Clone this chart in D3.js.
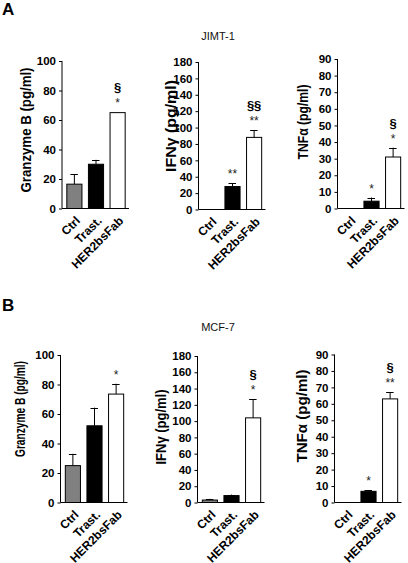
<!DOCTYPE html>
<html><head><meta charset="utf-8">
<script src="https://cdn.jsdelivr.net/npm/d3@7/dist/d3.min.js"></script>
<style>
html,body{margin:0;padding:0;background:#fff;}
svg{display:block;}
text{font-family:"Liberation Sans",Arial,sans-serif;}
</style></head>
<body>
<script>
const categories = ["Ctrl", "Trast.", "HER2bsFab"];
const barColors = ["#808080", "#000000", "#ffffff"];

// Row A: JIMT-1
const jimtGranzyme = [16.5, 30, 65];
const jimtGranzymeSem = [6.8, 3, 0.3];
const jimtIfn = [0, 28, 88];
const jimtIfnSem = [0, 4, 8.5];
const jimtTnf = [0, 4.4, 31];
const jimtTnfSem = [0, 2.2, 5.6];

// Row B: MCF-7
const mcfGranzyme = [25, 52, 73.5];
const mcfGranzymeSem = [8, 12.3, 7];
const mcfIfn = [3, 8.5, 104];
const mcfIfnSem = [1.5, 1.2, 23];
const mcfTnf = [0, 6.8, 63];
const mcfTnfSem = [0, 0.5, 4];

// significance marks
const jimtGranzymeStars = ["", "", "*"], jimtGranzymeSect = ["", "", "§"];
const jimtIfnStars = ["", "**", "**"], jimtIfnSect = ["", "", "§§"];
const jimtTnfStars = ["", "*", "*"], jimtTnfSect = ["", "", "§"];
const mcfGranzymeStars = ["", "", "*"], mcfGranzymeSect = ["", "", ""];
const mcfIfnStars = ["", "", "*"], mcfIfnSect = ["", "", "§"];
const mcfTnfStars = ["", "*", "**"], mcfTnfSect = ["", "", "§"];

const granzymeTicks = [0, 20, 40, 60, 80, 100];
const ifnTicks = [0, 20, 40, 60, 80, 100, 120, 140, 160, 180];
const tnfTicks = [0, 10, 20, 30, 40, 50, 60, 70, 80, 90];

const rowTitles = ["JIMT-1", "MCF-7"];
const rowLetters = ["A", "B"];
const yLabels = ["Granzyme B (pg/ml)", "IFNγ (pg/ml)", "TNFα (pg/ml)"];

const W = 408, H = 563;
const svg = d3.select("body").append("svg").attr("width", W).attr("height", H);
const FONT = '"Liberation Sans",Arial,sans-serif';

const panels = [
  {vals: jimtGranzyme, sem: jimtGranzymeSem, stars: jimtGranzymeStars, sect: jimtGranzymeSect, ticks: granzymeTicks, label: yLabels[0],
   ax: 62, y0: 208.5, y1: 61, labX: 31, labY: 130, labLen: 125},
  {vals: jimtIfn, sem: jimtIfnSem, stars: jimtIfnStars, sect: jimtIfnSect, ticks: ifnTicks, label: yLabels[1],
   ax: 198.5, y0: 209.5, y1: 62, labX: 176, labY: 126, labLen: 92},
  {vals: jimtTnf, sem: jimtTnfSem, stars: jimtTnfStars, sect: jimtTnfSect, ticks: tnfTicks, label: yLabels[2],
   ax: 337.5, y0: 208.5, y1: 59, labX: 308, labY: 122, labLen: 75},
  {vals: mcfGranzyme, sem: mcfGranzymeSem, stars: mcfGranzymeStars, sect: mcfGranzymeSect, ticks: granzymeTicks, label: yLabels[0],
   ax: 60.5, y0: 502.5, y1: 355, labX: 25, labY: 409, labLen: 96},
  {vals: mcfIfn, sem: mcfIfnSem, stars: mcfIfnStars, sect: mcfIfnSect, ticks: ifnTicks, label: yLabels[1],
   ax: 197.5, y0: 502.5, y1: 356, labX: 166, labY: 427, labLen: 75},
  {vals: mcfTnf, sem: mcfTnfSem, stars: mcfTnfStars, sect: mcfTnfSect, ticks: tnfTicks, label: yLabels[2],
   ax: 334.5, y0: 502.5, y1: 354.5, labX: 307, labY: 416, labLen: 93}
];

// row titles and letters
[{t: rowTitles[0], l: rowLetters[0], ty: 40, ly: 15}, {t: rowTitles[1], l: rowLetters[1], ty: 331, ly: 311}].forEach(r => {
  svg.append("text").attr("x", 218).attr("y", r.ty).attr("text-anchor", "middle")
    .style("font-size", "11px").style("fill", "#111").text(r.t);
  svg.append("text").attr("x", 2).attr("y", r.ly)
    .style("font-size", "17px").style("font-weight", "bold").text(r.l);
});

panels.forEach(p => {
  const g = svg.append("g");
  const ymax = p.ticks[p.ticks.length - 1];
  const y = d3.scaleLinear().domain([0, ymax]).range([p.y0, p.y1]);
  const x = d3.scaleBand().domain(categories).range([p.ax, p.ax + 67]).paddingInner(0.3).paddingOuter(0.2);

  // y axis
  const yAxis = d3.axisLeft(y).tickValues(p.ticks).tickSize(3).tickPadding(3).tickFormat(d3.format("d"));
  const ya = g.append("g").attr("transform", `translate(${p.ax},0)`).call(yAxis);
  ya.select(".domain").attr("d", `M0,${p.y0}V${p.y1}`).attr("stroke", "#000");
  ya.selectAll(".tick line").attr("stroke", "#000").attr("x2", -3);
  ya.selectAll(".tick text").style("font-family", FONT).style("font-size", "11.5px").style("font-weight", "bold").attr("fill", "#000");

  // x axis
  const xAxis = d3.axisBottom(x).tickSize(0).tickPadding(0);
  const xa = g.append("g").attr("transform", `translate(0,${p.y0})`).call(xAxis);
  xa.select(".domain").attr("d", `M${p.ax},0H${p.ax + 67}`).attr("stroke", "#000");
  xa.selectAll(".tick text")
    .attr("text-anchor", "end").attr("dy", null).attr("y", 0)
    .attr("transform", "translate(7,13) rotate(-45)")
    .style("font-family", FONT).style("font-size", "12px").style("font-weight", "bold").attr("fill", "#000");

  const data = categories.map((c, i) => ({c, v: p.vals[i], s: p.sem[i], col: barColors[i], st: p.stars[i], se: p.sect[i]}));

  // bars
  g.selectAll("rect.bar").data(data.filter(d => d.v > 0)).enter().append("rect")
    .attr("x", d => x(d.c) + 0.5).attr("width", x.bandwidth())
    .attr("y", d => y(d.v)).attr("height", d => y(0) - y(d.v))
    .attr("fill", d => d.col).attr("stroke", "#000").attr("stroke-width", 1);

  // error bars (upper)
  const eb = data.filter(d => d.s > 0.4);
  g.selectAll("line.err").data(eb).enter().append("line")
    .attr("x1", d => x(d.c) + x.bandwidth() / 2 + 0.5).attr("x2", d => x(d.c) + x.bandwidth() / 2 + 0.5)
    .attr("y1", d => y(d.v)).attr("y2", d => y(d.v + d.s)).attr("stroke", "#000");
  g.selectAll("line.cap").data(eb).enter().append("line")
    .attr("x1", d => x(d.c) + x.bandwidth() / 2 - 3.5).attr("x2", d => x(d.c) + x.bandwidth() / 2 + 4)
    .attr("y1", d => Math.round(y(d.v + d.s)) + 0.5).attr("y2", d => Math.round(y(d.v + d.s)) + 0.5).attr("stroke", "#000");

  // stars
  g.selectAll("text.star").data(data.filter(d => d.st)).enter().append("text")
    .attr("x", d => x(d.c) + x.bandwidth() / 2 + 0.5).attr("y", d => y(d.v + d.s) - 5)
    .attr("text-anchor", "middle").style("font-size", "12px").style("fill", "#222").text(d => d.st);
  g.selectAll("text.sect").data(data.filter(d => d.se)).enter().append("text")
    .attr("x", d => x(d.c) + x.bandwidth() / 2 + 0.5).attr("y", d => y(d.v + d.s) - 20)
    .attr("text-anchor", "middle").style("font-size", "13px").style("font-weight", "bold").text(d => d.se);

  // y label
  g.append("text").attr("transform", `translate(${p.labX},${p.labY}) rotate(-90)`)
    .attr("text-anchor", "middle").attr("textLength", p.labLen).attr("lengthAdjust", "spacingAndGlyphs")
    .style("font-size", "14px").style("font-weight", "bold").text(p.label);
});
</script>
</body></html>
